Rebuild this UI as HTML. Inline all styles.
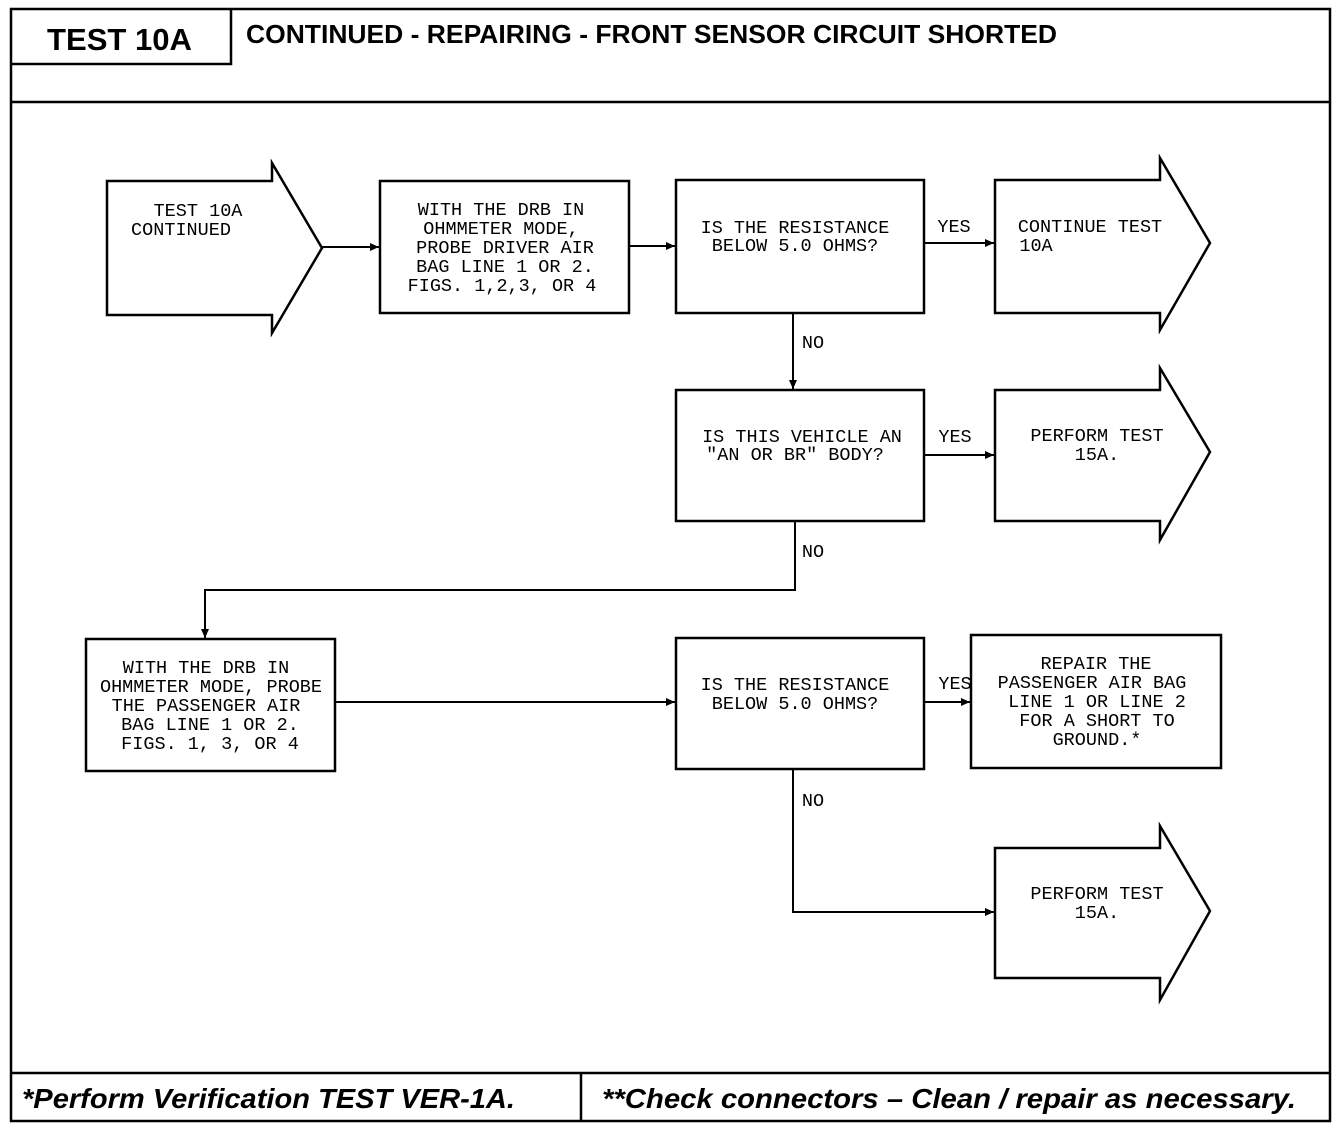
<!DOCTYPE html>
<html><head><meta charset="utf-8"><style>
html,body{margin:0;padding:0;background:#fff;}
svg{display:block}
.t{font-family:"Liberation Mono",monospace;font-size:18.5px;fill:#000;text-anchor:middle}
.h{font-family:"Liberation Sans",sans-serif;font-weight:bold;fill:#000}
</style></head><body>
<svg width="1344" height="1130" viewBox="0 0 1344 1130" xmlns="http://www.w3.org/2000/svg">
<defs><marker id="a" markerWidth="10" markerHeight="10" refX="9" refY="5" orient="auto" markerUnits="userSpaceOnUse"><path d="M0,1 L9,5 L0,9 Z" fill="#000"/></marker></defs>
<g fill="none" stroke="#000" stroke-width="2.5">
<rect x="11" y="9" width="1319" height="1112"/>
<path d="M11,64 H231 V9"/>
<line x1="11" y1="102" x2="1330" y2="102"/>
<line x1="11" y1="1073" x2="1330" y2="1073"/>
<line x1="581" y1="1073" x2="581" y2="1121"/>
<path d="M107,181 H272 V163 L322,248 L272,333 V315 H107 Z"/>
<rect x="380" y="181" width="249" height="132"/>
<rect x="676" y="180" width="248" height="133"/>
<path d="M995,180 H1160 V158 L1210,243 L1160,330 V313 H995 Z"/>
<rect x="676" y="390" width="248" height="131"/>
<path d="M995,390 H1160 V368 L1210,452 L1160,540 V521 H995 Z"/>
<rect x="86" y="639" width="249" height="132"/>
<rect x="676" y="638" width="248" height="131"/>
<rect x="971" y="635" width="250" height="133"/>
<path d="M995,848 H1160 V826 L1210,911 L1160,1000 V978 H995 Z"/>
</g>
<g fill="none" stroke="#000" stroke-width="2" marker-end="url(#a)">
<line x1="322" y1="247" x2="379" y2="247"/>
<line x1="629" y1="246" x2="675" y2="246"/>
<line x1="924" y1="243" x2="994" y2="243"/>
<line x1="793" y1="313" x2="793" y2="389"/>
<line x1="924" y1="455" x2="994" y2="455"/>
<path d="M795,521 V590 H205 V638"/>
<line x1="335" y1="702" x2="675" y2="702"/>
<line x1="924" y1="702" x2="970" y2="702"/>
<path d="M793,769 V912 H994"/>
</g>
<text class="h" x="47" y="50" font-size="31" textLength="145" lengthAdjust="spacingAndGlyphs">TEST 10A</text>
<text class="h" x="246" y="43" font-size="26" textLength="811" lengthAdjust="spacingAndGlyphs">CONTINUED - REPAIRING - FRONT SENSOR CIRCUIT SHORTED</text>
<text class="h" x="22" y="1108" font-size="28" font-style="italic" textLength="493" lengthAdjust="spacingAndGlyphs">*Perform Verification TEST VER-1A.</text>
<text class="h" x="602" y="1108" font-size="28" font-style="italic" textLength="694" lengthAdjust="spacingAndGlyphs">**Check connectors – Clean / repair as necessary.</text>
<g class="t">
<text x="198" y="216">TEST 10A</text>
<text x="181" y="235">CONTINUED</text>
<text x="501" y="215">WITH THE DRB IN</text>
<text x="501" y="234">OHMMETER MODE,</text>
<text x="505" y="253">PROBE DRIVER AIR</text>
<text x="505" y="272">BAG LINE 1 OR 2.</text>
<text x="502" y="291">FIGS. 1,2,3, OR 4</text>
<text x="795" y="233">IS THE RESISTANCE</text>
<text x="795" y="251">BELOW 5.0 OHMS?</text>
<text x="954" y="232">YES</text>
<text x="1090" y="232">CONTINUE TEST</text>
<text x="1036" y="251">10A</text>
<text x="813" y="348">NO</text>
<text x="802" y="442">IS THIS VEHICLE AN</text>
<text x="795" y="460">"AN OR BR" BODY?</text>
<text x="955" y="442">YES</text>
<text x="1097" y="441">PERFORM TEST</text>
<text x="1097" y="460">15A.</text>
<text x="813" y="557">NO</text>
<text x="206" y="673">WITH THE DRB IN</text>
<text x="211" y="692">OHMMETER MODE, PROBE</text>
<text x="206" y="711">THE PASSENGER AIR</text>
<text x="210" y="730">BAG LINE 1 OR 2.</text>
<text x="210" y="749">FIGS. 1, 3, OR 4</text>
<text x="795" y="690">IS THE RESISTANCE</text>
<text x="795" y="709">BELOW 5.0 OHMS?</text>
<text x="955" y="689">YES</text>
<text x="1096" y="669">REPAIR THE</text>
<text x="1092" y="688">PASSENGER AIR BAG</text>
<text x="1097" y="707">LINE 1 OR LINE 2</text>
<text x="1097" y="726">FOR A SHORT TO</text>
<text x="1097" y="745">GROUND.*</text>
<text x="813" y="806">NO</text>
<text x="1097" y="899">PERFORM TEST</text>
<text x="1097" y="918">15A.</text>
</g>
</svg>
</body></html>
